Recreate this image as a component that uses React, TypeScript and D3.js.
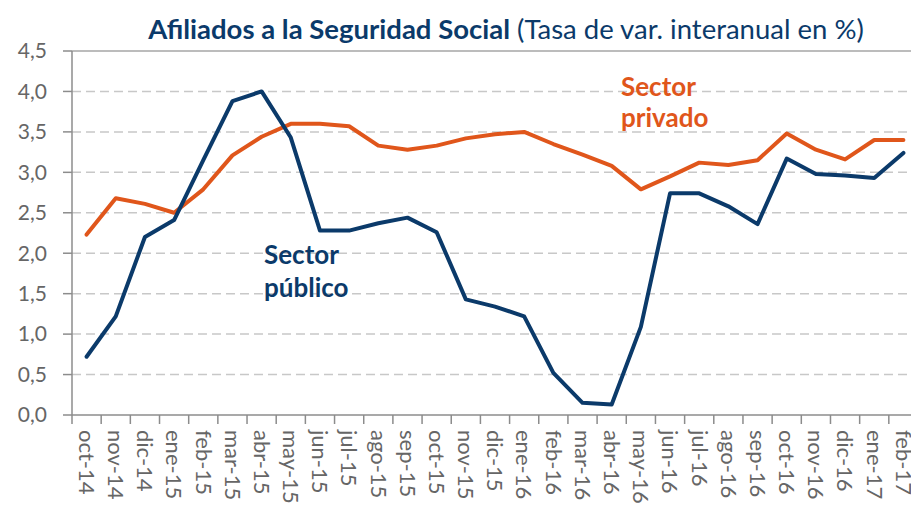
import * as d3 from 'd3'

const months = [
  'oct-14', 'nov-14', 'dic-14', 'ene-15', 'feb-15', 'mar-15', 'abr-15', 'may-15', 'jun-15', 'jul-15',
  'ago-15', 'sep-15', 'oct-15', 'nov-15', 'dic-15', 'ene-16', 'feb-16', 'mar-16', 'abr-16', 'may-16',
  'jun-16', 'jul-16', 'ago-16', 'sep-16', 'oct-16', 'nov-16', 'dic-16', 'ene-17', 'feb-17',
]

const publico = [
  0.72, 1.22, 2.2, 2.41, 3.15, 3.88, 4.0, 3.43, 2.28, 2.28,
  2.37, 2.44, 2.26, 1.43, 1.34, 1.22, 0.52, 0.15, 0.13, 1.09,
  2.74, 2.74, 2.58, 2.36, 3.17, 2.98, 2.96, 2.93, 3.24,
]

const privado = [
  2.23, 2.68, 2.61, 2.5, 2.79, 3.21, 3.44, 3.6, 3.6, 3.57,
  3.33, 3.28, 3.33, 3.42, 3.47, 3.5, 3.35, 3.22, 3.08, 2.79,
  2.95, 3.12, 3.09, 3.15, 3.48, 3.28, 3.16, 3.4, 3.4,
]

const yTicks = [0, 0.5, 1, 1.5, 2, 2.5, 3, 3.5, 4, 4.5]

const BLUE = '#0b3a6a'
const ORANGE = '#e0561b'
const GREY = '#666666'
const FONT = 'Lato, "Open Sans", sans-serif'

export default function App() {
  const W = 911
  const H = 511
  const left = 72
  const right = 918
  const top = 51
  const bottom = 415

  const x = d3.scaleBand<string>().domain(months).range([left, right]).padding(0)
  const y = d3.scaleLinear().domain([0, 4.5]).range([bottom, top])
  const cx = (m: string) => (x(m) ?? 0) + x.bandwidth() / 2

  const line = d3.line<number>()
    .x((_, i) => cx(months[i]))
    .y(d => y(d))

  const fmt = (v: number) => v.toFixed(1).replace('.', ',')

  return (
    <svg width={W} height={H} style={{ position: 'absolute', left: 0, top: 0, background: '#fff' }}>
      <text x={506} y={39} textAnchor="middle" fill={BLUE} fontFamily={FONT} fontSize={27.5}>
        <tspan fontWeight="bold">Afiliados a la Seguridad Social</tspan>
        <tspan> (Tasa de var. interanual en %)</tspan>
      </text>

      {yTicks.filter(t => t > 0 && t < 4.5).map(t => (
        <line key={t} x1={left} x2={right} y1={y(t)} y2={y(t)}
          stroke="#c8c8c8" strokeWidth={1.5} strokeDasharray="9,5" />
      ))}
      <line x1={left} x2={right} y1={y(4.5)} y2={y(4.5)} stroke="#a6a6a6" strokeWidth={1.5} />

      {/* y axis */}
      <line x1={left} x2={left} y1={top} y2={bottom} stroke="#8c8c8c" strokeWidth={1.5} />
      {yTicks.map(t => (
        <g key={t}>
          <line x1={left - 9} x2={left} y1={y(t)} y2={y(t)} stroke="#8c8c8c" strokeWidth={1.5} />
          <text x={47} y={y(t)} dy="0.35em" textAnchor="end" fill={GREY} fontFamily={FONT} fontSize={21}>
            {fmt(t)}
          </text>
        </g>
      ))}

      {/* x axis */}
      <line x1={left} x2={right} y1={bottom} y2={bottom} stroke="#8c8c8c" strokeWidth={1.5} />
      {months.map(m => (
        <g key={m}>
          <line x1={x(m)} x2={x(m)} y1={bottom} y2={bottom + 9} stroke="#8c8c8c" strokeWidth={1.5} />
          <text transform={`translate(${cx(m)},${bottom + 15}) rotate(90)`} dy="0.35em"
            fill={GREY} fontFamily={FONT} fontSize={22}>
            {m}
          </text>
        </g>
      ))}

      <path d={line(privado) ?? ''} fill="none" stroke={ORANGE} strokeWidth={4} strokeLinejoin="round" strokeLinecap="round" />
      <path d={line(publico) ?? ''} fill="none" stroke={BLUE} strokeWidth={4} strokeLinejoin="round" strokeLinecap="round" />

      <text fill={BLUE} fontFamily={FONT} fontSize={26} fontWeight="bold">
        <tspan x={264} y={264}>Sector</tspan>
        <tspan x={264} y={297}>público</tspan>
      </text>
      <text fill={ORANGE} fontFamily={FONT} fontSize={26} fontWeight="bold">
        <tspan x={621} y={96}>Sector</tspan>
        <tspan x={621} y={127}>privado</tspan>
      </text>
    </svg>
  )
}
